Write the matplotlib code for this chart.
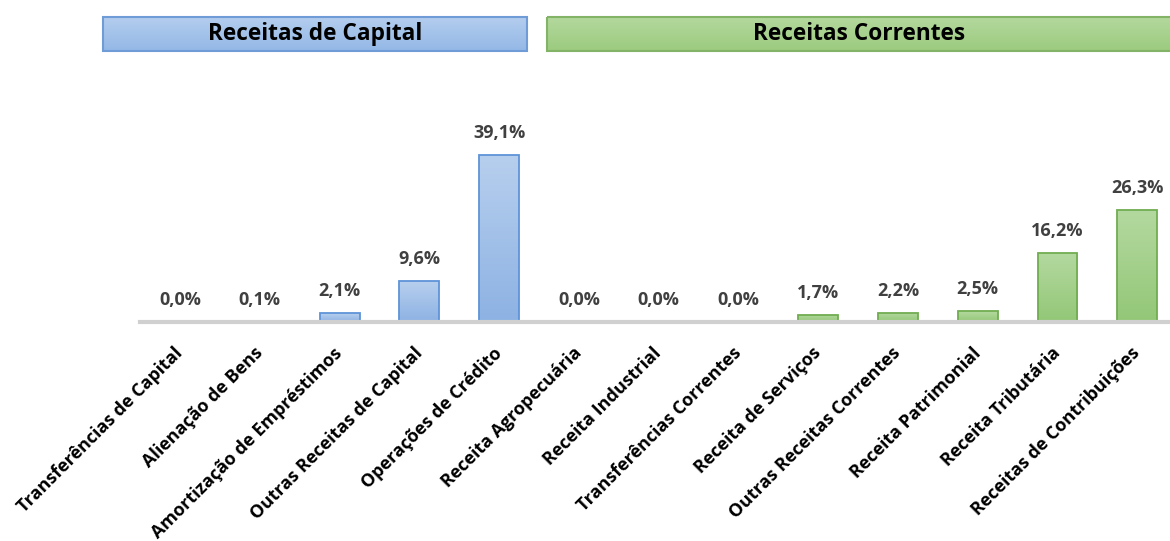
import numpy as np
import matplotlib.pyplot as plt
import matplotlib.transforms as mtransforms
from matplotlib.colors import LinearSegmentedColormap
from matplotlib.patches import Rectangle

categories = [
    "Transferências de Capital", "Alienação de Bens", "Amortização de Empréstimos",
    "Outras Receitas de Capital", "Operações de Crédito",
    "Receita Agropecuária", "Receita Industrial", "Transferências Correntes",
    "Receita de Serviços", "Outras Receitas Correntes", "Receita Patrimonial",
    "Receita Tributária", "Receitas de Contribuições",
]
values = [0.0, 0.1, 2.1, 9.6, 39.1, 0.0, 0.0, 0.0, 1.7, 2.2, 2.5, 16.2, 26.3]
groups = ["capital"] * 5 + ["correntes"] * 8

# (top colour, bottom colour) of the gradient fills
GRAD = {"capital": ("#b7cfee", "#8db2e3"), "correntes": ("#b4d9a0", "#93c777")}
EDGE = {"capital": "#5f93d8", "correntes": "#71ad51"}
HEAD_GRAD = {"capital": ("#b3cdee", "#94b8e6"), "correntes": ("#b3d89d", "#9ccb7f")}
HEAD_EDGE = {"capital": "#6f9bd6", "correntes": "#82b366"}

plt.rcParams['font.family'] = ['Open Sans', 'DejaVu Sans']


def fmt(v):
    return f"{v:.1f}%".replace(".", ",")


def gradient_fill(ax, patch, colours, zorder):
    cmap = LinearSegmentedColormap.from_list("g", [colours[1], colours[0]])
    grad = np.linspace(0, 1, 64).reshape(-1, 1)
    bb = patch.get_bbox()
    im = ax.imshow(grad, cmap=cmap, aspect="auto", origin="lower",
                   extent=[bb.x0, bb.x1, bb.y0, bb.y1], zorder=zorder,
                   interpolation="bilinear")
    im.set_clip_path(patch)


def main():
    fig = plt.figure(figsize=(11.7, 5.41), dpi=100)
    ax = fig.add_axes([0.1197, 0.405, 0.8803, 0.355])

    x = list(range(len(categories)))
    for i, v, g in zip(x, values, groups):
        bars = ax.bar(i, v, width=0.5, facecolor="none", edgecolor=EDGE[g],
                      linewidth=1.3, zorder=3)
        if v > 0:
            gradient_fill(ax, bars[0], GRAD[g], 2)
        ax.text(i, v + 3.0, fmt(v), ha="center", va="bottom", fontsize=13,
                fontweight="bold", color="#404040")

    ax.set_xlim(-0.502, 12.41)
    ax.set_ylim(0, 45)
    for s in ["top", "right", "left"]:
        ax.spines[s].set_visible(False)
    ax.spines["bottom"].set_color("#d0d0d0")
    ax.spines["bottom"].set_linewidth(3)
    ax.spines["bottom"].set_zorder(4)
    ax.set_yticks([])
    ax.set_xticks(x)
    ax.set_xticklabels(categories, rotation=45, ha="right", rotation_mode="anchor",
                       fontsize=13, fontweight="bold", color="black")
    ax.tick_params(axis="x", length=0, pad=10)
    shift = mtransforms.ScaledTranslation(-4.5 / 72, -6 / 72, fig.dpi_scale_trans)
    for lbl in ax.get_xticklabels():
        lbl.set_transform(lbl.get_transform() + shift)

    # group headers above the bars
    W, H = 1170, 541
    headers = [
        ("Receitas de Capital", 103, 527, "capital"),
        ("Receitas Correntes", 547, 1172, "correntes"),
    ]
    hax = fig.add_axes([0, 0, 1, 1], zorder=-1)
    hax.axis("off")
    for label, x0, x1, g in headers:
        rect = Rectangle((x0, 17), x1 - x0, 34, facecolor="none",
                         edgecolor=HEAD_EDGE[g], linewidth=1.5, zorder=3)
        hax.add_patch(rect)
        cmap = LinearSegmentedColormap.from_list("h", list(HEAD_GRAD[g]))
        hax.imshow(np.linspace(0, 1, 32).reshape(-1, 1), cmap=cmap, aspect="auto",
                   extent=[x0, x1, 51, 17], origin="upper", zorder=2)
        hax.text((x0 + x1) / 2, 34, label, ha="center", va="center",
                 fontsize=16.3, fontweight="bold", color="black", zorder=4)
    hax.set_xlim(0, W)
    hax.set_ylim(H, 0)

    fig.savefig("out.png", dpi=100)


if __name__ == '__main__':
    main()
